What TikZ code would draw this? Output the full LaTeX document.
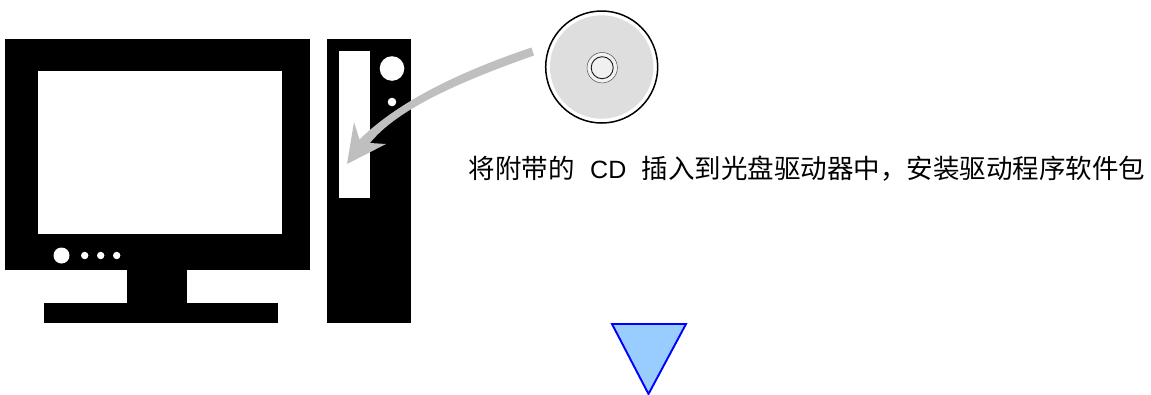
\documentclass[tikz,border=0pt]{standalone}
\usepackage{fontspec}
\setmainfont{Liberation Sans}
\newfontfamily\cjk{Noto Sans CJK SC}
\begin{document}
\begin{tikzpicture}[x=1pt,y=-1pt,
  solidblack/.style={fill=black,draw=none},
  hole/.style={fill=white,draw=none}]
\useasboundingbox (0,0) rectangle (1151,394);
\fill[white] (0,0) rectangle (1151,394);
% monitor
\path[solidblack] (5,39) rectangle (310,269.5);
\path[hole] (37.5,71) rectangle (282,234);
\path[solidblack] (127,269) rectangle (186.5,303);
\path[solidblack] (43.5,303) rectangle (277.5,322.5);
\path[hole] (61.5,255.5) circle (8);
\path[hole] (84.7,255.5) circle (3.7);
\path[hole] (100.7,255.5) circle (3.7);
\path[hole] (116.7,255.5) circle (3.7);
% tower
\path[solidblack] (327,39) rectangle (410.5,322.5);
\path[hole] (338.5,50.5) rectangle (370,197.5);
\path[hole] (392,68.5) circle (12.3);
\path[hole] (392,102) circle (4.3);
% disc
\draw[black,line width=1.5pt,fill=white] (601.7,67) circle (56);
\fill[black!13] (601.7,67) circle (51.7);
\draw[black!70,line width=0.5pt,fill=black!5] (602.2,67.7) circle (15.2);
\draw[black!90,line width=0.9pt,fill=black!6] (602.2,67.7) circle (11);
% arrow
\fill[black!25] (531.5,47.5)
  .. controls (450,75) and (395,105) .. (359.5,139.5)
  -- (354,122) -- (347,164) -- (386,144) -- (370,143)
  .. controls (395,112) and (450,85) .. (534,55.5) -- cycle;
% down triangle
\draw[draw={rgb,255:red,0;green,0;blue,255},fill={rgb,255:red,153;green,204;blue,255},line width=1.9pt,line join=miter]
  (612,324) -- (686,324) -- (648.5,394) -- cycle;
% caption
\node[anchor=west,inner sep=0pt,font=\fontsize{25}{29}\selectfont] (cap) at (468.5,169)
  {{\fontsize{26.5}{29}\selectfont\cjk 将附带的}\hspace{0.62em}CD\hspace{0.62em}{\fontsize{26.5}{29}\selectfont\cjk 插入到光盘驱动器中，安装驱动程序软件包}};
\end{tikzpicture}
\end{document}
